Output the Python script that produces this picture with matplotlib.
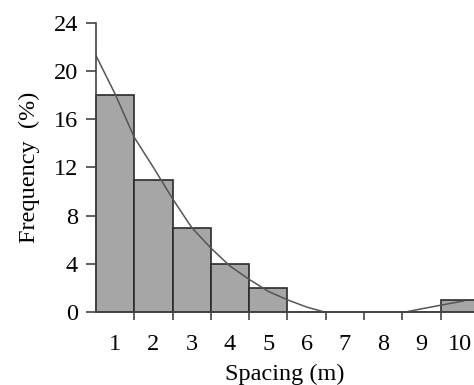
import matplotlib
matplotlib.use("Agg")
import matplotlib.pyplot as plt

# bar data (spacing class, frequency %)
spacing = [1, 2, 3, 4, 5, 6, 7, 8, 9, 10]
frequency = [18, 11, 7, 4, 2, 0, 0, 0, 0, 1]

# trend curve
curve_x = [0.5, 1.0, 1.5, 2.0, 2.5, 3.0, 3.5, 4.0, 4.5, 5.0, 5.5, 6.0, 6.45,
           7.0, 8.0, 8.6, 9.0, 9.5, 10.0, 10.1]
curve_y = [21.3, 18.1, 14.5, 12.0, 9.4, 7.0, 5.3, 3.8, 2.7, 1.7, 1.0, 0.4, 0.0,
           0.0, 0.0, 0.0, 0.25, 0.55, 0.85, 0.9]

yticks = [0, 4, 8, 12, 16, 20, 24]

plt.rcParams['font.family'] = ['Liberation Serif', 'DejaVu Serif']

fig = plt.figure(figsize=(4.74, 3.85), dpi=100)
ax = fig.add_axes([0.2025, 0.19, 0.7975, 0.75])

ax.bar(spacing, frequency, width=1.0, color='#a6a6a6', edgecolor='#2a2a2a',
       linewidth=1.2, clip_on=False, zorder=2)
ax.plot(curve_x, curve_y, color='#555555', linewidth=1.1, zorder=3)

ax.set_xlim(0.5, 10.37)
ax.set_ylim(0, 24)
ax.set_yticks(yticks)
ax.set_xticks(spacing)
ax.set_xticks([x + 0.5 for x in spacing[:-1]], minor=True)

ax.spines['top'].set_visible(False)
ax.spines['right'].set_visible(False)
for s in ['left', 'bottom']:
    ax.spines[s].set_color('#444444')
    ax.spines[s].set_linewidth(1.2)
    ax.spines[s].set_zorder(4)

ax.tick_params(axis='x', which='major', length=0, pad=16, labelsize=17.5)
ax.tick_params(axis='x', which='minor', length=6, width=1.2, color='#444444',
               direction='out')
ax.tick_params(axis='y', length=7, width=1.2, color='#444444', labelsize=17.5, pad=6)

ax.set_xlabel('Spacing (m)', fontsize=17.5, labelpad=6)
ax.set_ylabel('Frequency  (%)', fontsize=17.5, labelpad=10)

fig.savefig('out.png', dpi=100)
